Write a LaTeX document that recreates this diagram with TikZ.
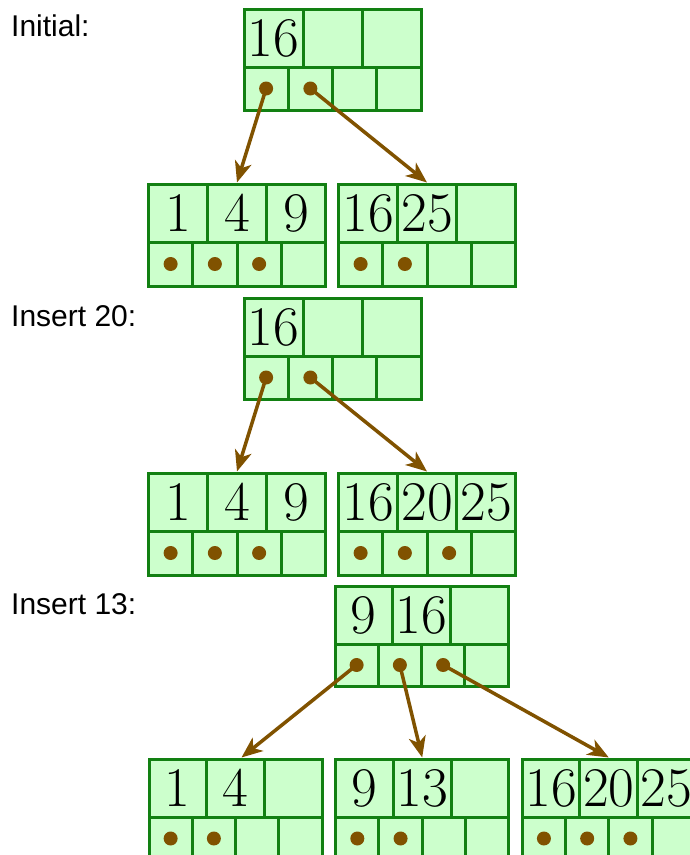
\documentclass[tikz,border=0pt]{standalone}
\usepackage{fontspec}
\newfontfamily\labfont{Liberation Sans}
\usetikzlibrary{arrows.meta}
\definecolor{cellfill}{RGB}{204,255,204}
\definecolor{celldraw}{RGB}{18,128,18}
\definecolor{ptrbrown}{RGB}{128,82,0}
\tikzset{
  kcell/.style={draw=celldraw, fill=cellfill, line width=3pt, inner sep=0pt, minimum height=58pt,
    font=\fontsize{56}{60}\selectfont},
  pcell/.style={draw=celldraw, fill=cellfill, line width=3pt, inner sep=0pt},
  ptrdot/.style={circle, fill=ptrbrown, inner sep=0pt, minimum size=14pt},
  ptrarrow/.style={draw=ptrbrown, line width=3.5pt, -{Stealth[length=21pt,width=17pt,inset=6pt]}},
  steplabel/.style={anchor=base west, inner sep=0pt, font=\labfont\fontsize{30}{34}\selectfont}
}
% #1 prefix, #2 left, #3 top, #4 width, #5-#7 keys, #8 number of dots, #9 bottom row height
\newcommand{\bnode}[9]{%
  \pgfmathsetmacro\cw{#4/3}%
  \pgfmathsetmacro\pw{#4/4}%
  \node[kcell, minimum width=\cw pt] (#1k1) at ({#2+0.5*\cw}, {#3+29}) {#5};
  \node[kcell, minimum width=\cw pt] (#1k2) at ({#2+1.5*\cw}, {#3+29}) {#6};
  \node[kcell, minimum width=\cw pt] (#1k3) at ({#2+2.5*\cw}, {#3+29}) {#7};
  \foreach \i in {1,...,4}{
    \node[pcell, minimum width=\pw pt, minimum height=#9 pt] (#1p\i) at ({#2+(\i-0.5)*\pw}, {#3+58+0.5*#9}) {};
  }
  \foreach \i in {1,...,#8}{
    \node[ptrdot] (#1d\i) at (#1p\i.center) {};
  }
}
\begin{document}
\begin{tikzpicture}[x=1pt,y=-1pt]
\useasboundingbox (0,0) rectangle (690,855);
\clip (0,0) rectangle (690,855);
% labels
\node[steplabel] (lab1) at (11,36.7) {Initial:};
\node[steplabel] (lab2) at (11,326) {Insert 20:};
\node[steplabel] (lab3) at (11,614.3) {Insert 13:};
% section 1
\bnode{ra}{244}{9}{177}{16}{}{}{2}{43}
\bnode{aa}{148.5}{184}{177}{1}{4}{9}{3}{44}
\bnode{ab}{338.5}{184}{177}{16}{25}{}{2}{44}
\draw[ptrarrow] (rad1.center) -- (aak2.north);
\draw[ptrarrow] (rad2.center) -- (abk2.north);
% section 2
\bnode{rb}{244}{298}{177}{16}{}{}{2}{43}
\bnode{ba}{148.5}{473}{177}{1}{4}{9}{3}{44}
\bnode{bb}{338.5}{473}{177}{16}{20}{25}{3}{44}
\draw[ptrarrow] (rbd1.center) -- (bak2.north);
\draw[ptrarrow] (rbd2.center) -- (bbk2.north);
% section 3
\bnode{rc}{335}{586}{173}{9}{16}{}{3}{42}
\bnode{ca}{149}{759}{173}{1}{4}{}{2}{43}
\bnode{cb}{335.7}{759}{173}{9}{13}{}{2}{43}
\bnode{cc}{522.3}{759}{173}{16}{20}{25}{3}{43}
\draw[ptrarrow] (rcd1.center) -- ([xshift=6pt]cak2.north);
\draw[ptrarrow] (rcd2.center) -- (cbk2.north);
\draw[ptrarrow] (rcd3.center) -- (cck2.north);
\end{tikzpicture}
\end{document}
